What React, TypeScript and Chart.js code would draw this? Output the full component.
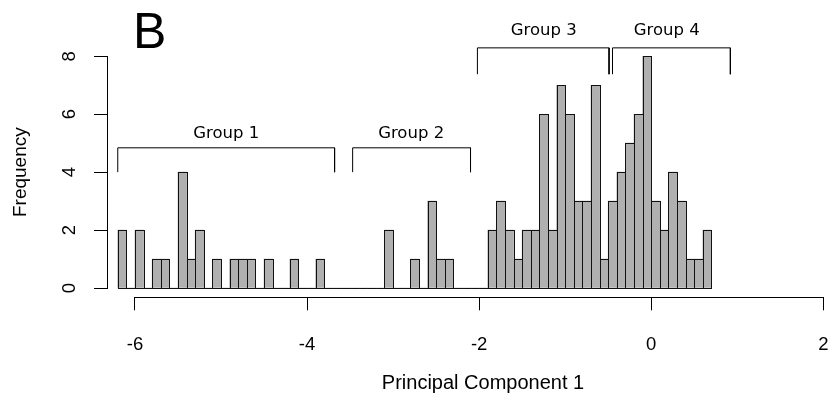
import React, { useEffect, useRef } from 'react';
import { Chart, registerables } from 'chart.js';

Chart.register(...registerables);

// Histogram bins (midpoints, width 0.1) and their frequencies
const binMids = [
  -6.15, -6.05, -5.95, -5.85, -5.75, -5.65, -5.55, -5.45, -5.35, -5.25,
  -5.15, -5.05, -4.95, -4.85, -4.75, -4.65, -4.55, -4.45, -4.35, -4.25,
  -4.15, -4.05, -3.95, -3.85, -3.75, -3.65, -3.55, -3.45, -3.35, -3.25,
  -3.15, -3.05, -2.95, -2.85, -2.75, -2.65, -2.55, -2.45, -2.35, -2.25,
  -2.15, -2.05, -1.95, -1.85, -1.75, -1.65, -1.55, -1.45, -1.35, -1.25,
  -1.15, -1.05, -0.95, -0.85, -0.75, -0.65, -0.55, -0.45, -0.35, -0.25,
  -0.15, -0.05, 0.05, 0.15, 0.25, 0.35, 0.45, 0.55, 0.65,
];
const counts = [
  2, 0, 2, 0, 1, 1, 0, 4, 1, 2,
  0, 1, 0, 1, 1, 1, 0, 1, 0, 0,
  1, 0, 0, 1, 0, 0, 0, 0, 0, 0,
  0, 2, 0, 0, 1, 0, 3, 1, 1, 0,
  0, 0, 0, 2, 3, 2, 1, 2, 2, 6,
  2, 7, 6, 3, 3, 7, 1, 3, 4, 5,
  6, 8, 3, 2, 4, 3, 1, 1, 2,
];

const xTicks = [-6, -4, -2, 0, 2];
const yTicks = [0, 2, 4, 6, 8];

// Group brackets (data units)
const groupNames = ['Group 1', 'Group 2', 'Group 3', 'Group 4'];
const groupStart = [-6.2, -3.47, -2.02, -0.45];
const groupEnd = [-3.68, -2.1, -0.49, 0.92];
const groupTop = [4.84, 4.84, 8.29, 8.29];
const groupTip = [4.0, 4.0, 7.38, 7.38];
const groupLabelX = [-4.94, -2.79, -1.25, 0.18];
const groupLabelY = [5.34, 5.34, 8.87, 8.87];

const panelLabel = 'B';
const xTitle = 'Principal Component 1';
const yTitle = 'Frequency';

const X_MIN = -6.325;
const X_MAX = 2.415;
const Y_MIN = -0.32;
const Y_MAX = 8.32;

const SANS = '"Liberation Sans", Arial, Helvetica, sans-serif';

const alignPx = (p: number) => Math.round(p - 0.5) + 0.5;

const rPlugin = {
  id: 'rStyle',
  afterLayout(chart: any) {
    // R plot region extends beyond the cropped picture on the right
    const s = chart.scales.x;
    s.right = 859;
    s.width = s.right - s.left;
    s.configure();
  },
  afterDatasetsDraw(chart: any) {
    const ctx = chart.ctx;
    const meta = chart.getDatasetMeta(0);
    ctx.save();
    ctx.strokeStyle = '#111';
    ctx.lineWidth = 1;
    meta.data.forEach((bar: any) => {
      const { x, y, base, width } = bar.getProps(['x', 'y', 'base', 'width'], true);
      const l = Math.round(x - width / 2) + 0.5;
      const r = Math.round(x + width / 2) + 0.5;
      const t = Math.round(y) + 0.5;
      const b = Math.round(base) + 0.5;
      ctx.strokeRect(l, t, r - l, b - t);
    });
    ctx.restore();
  },
  afterDraw(chart: any) {
    const ctx = chart.ctx;
    const xs = chart.scales.x;
    const ys = chart.scales.y;
    ctx.save();
    ctx.strokeStyle = '#000';
    ctx.lineWidth = 1;
    // axis lines (R style: only over the tick range)
    const yl = alignPx(ys.right);
    const yTop = alignPx(ys.getPixelForValue(yTicks[yTicks.length - 1]));
    const yBot = alignPx(ys.getPixelForValue(yTicks[0]));
    ctx.beginPath();
    ctx.moveTo(yl, yTop - 0.5);
    ctx.lineTo(yl, yBot + 0.5);
    const xl = alignPx(xs.top);
    const xLeft = alignPx(xs.getPixelForValue(xTicks[0]));
    const xRight = alignPx(xs.getPixelForValue(xTicks[xTicks.length - 1]));
    ctx.moveTo(xLeft - 0.5, xl);
    ctx.lineTo(xRight + 0.5, xl);
    ctx.stroke();

    // group labels
    ctx.fillStyle = '#000';
    ctx.font = '16.5px "DejaVu Sans", Verdana, sans-serif';
    ctx.textAlign = 'center';
    ctx.textBaseline = 'middle';
    groupNames.forEach((name, i) => {
      ctx.fillText(name, xs.getPixelForValue(groupLabelX[i]), ys.getPixelForValue(groupLabelY[i]));
    });

    // panel letter
    ctx.font = '50px ' + SANS;
    ctx.textAlign = 'left';
    ctx.textBaseline = 'alphabetic';
    ctx.fillText(panelLabel, 133, 48.3);
    ctx.restore();
  },
};

export default function App() {
  const canvasRef = useRef<HTMLCanvasElement | null>(null);

  useEffect(() => {
    if (!canvasRef.current) return;
    const bracketSets = groupNames.map((name, i) => ({
      type: 'line' as const,
      label: name,
      data: [
        { x: groupStart[i], y: groupTip[i] },
        { x: groupStart[i], y: groupTop[i] },
        { x: groupEnd[i], y: groupTop[i] },
        { x: groupEnd[i], y: groupTip[i] },
      ],
      borderColor: '#000',
      borderWidth: 1,
      pointRadius: 0,
      fill: false,
      tension: 0,
      clip: false as any,
    }));

    const chart = new Chart(canvasRef.current, {
      type: 'bar',
      data: {
        datasets: [
          {
            type: 'bar',
            label: 'Frequency',
            data: binMids.map((m, i) => ({ x: m, y: counts[i] })),
            backgroundColor: '#B0B0B0',
            borderWidth: 0,
            barPercentage: 1,
            categoryPercentage: 1,
          } as any,
          ...bracketSets,
        ],
      },
      options: {
        responsive: false,
        animation: false,
        devicePixelRatio: 1,
        layout: { padding: { top: 47, left: 0, right: 0, bottom: 0 } },
        plugins: {
          legend: { display: false },
          tooltip: { enabled: false },
          title: { display: false },
        },
        scales: {
          x: {
            type: 'linear',
            min: X_MIN,
            max: X_MAX,
            offset: false,
            grid: {
              display: true,
              offset: false,
              drawOnChartArea: false,
              drawTicks: true,
              tickLength: 13,
              color: '#000',
              lineWidth: 1,
            },
            border: { display: false },
            ticks: {
              color: '#000',
              font: { family: SANS, size: 18.5 },
              padding: 24,
              maxRotation: 0,
              minRotation: 0,
              autoSkip: false,
            },
            title: {
              display: true,
              text: xTitle,
              color: '#000',
              font: { family: SANS, size: 20 },
              padding: { top: 0, bottom: 0 },
            },
            afterBuildTicks: (axis: any) => {
              axis.ticks = xTicks.map((v) => ({ value: v }));
            },
            afterFit: (axis: any) => {
              axis.height = 97.7;
            },
          },
          y: {
            type: 'linear',
            min: Y_MIN,
            max: Y_MAX,
            grid: {
              display: true,
              drawOnChartArea: false,
              drawTicks: true,
              tickLength: 13,
              color: '#000',
              lineWidth: 1,
            },
            border: { display: false },
            ticks: {
              color: '#000',
              font: { family: SANS, size: 18.5 },
              padding: 19,
              minRotation: 90,
              maxRotation: 90,
              crossAlign: 'center',
              autoSkip: false,
            },
            title: {
              display: true,
              text: yTitle,
              color: '#000',
              font: { family: SANS, size: 19 },
              padding: { top: 9, bottom: 0 },
            },
            afterBuildTicks: (axis: any) => {
              axis.ticks = yTicks.map((v) => ({ value: v }));
            },
            afterFit: (axis: any) => {
              axis.width = 107;
            },
          },
        },
      } as any,
      plugins: [rPlugin],
    });
    return () => chart.destroy();
  }, []);

  return (
    <div style={{ position: 'absolute', left: 0, top: 0, width: 828, height: 395, background: '#fff' }}>
      <canvas ref={canvasRef} width={828} height={395} style={{ display: 'block' }} />
    </div>
  );
}
